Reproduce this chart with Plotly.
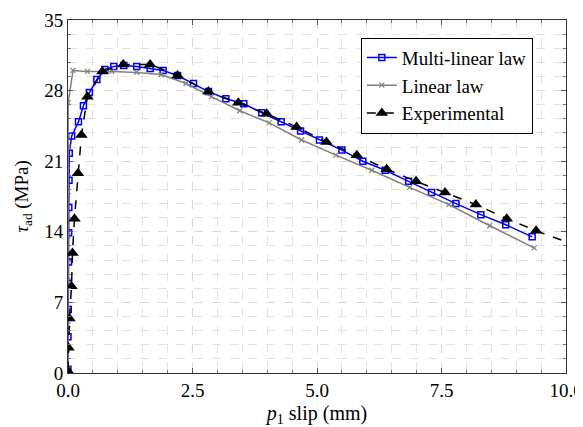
import plotly.graph_objects as go

# Multi-linear law
ml_x = [0.0, 0.0, 0.005, 0.008, 0.01, 0.013, 0.016, 0.02, 0.025, 0.074, 0.21, 0.31, 0.43, 0.58,
        0.74, 0.92, 1.12, 1.38, 1.65, 1.91, 2.2, 2.52, 2.82, 3.17, 3.53, 3.89, 4.28, 4.67, 5.05,
        5.5, 5.92, 6.37, 6.84, 7.3, 7.79, 8.29, 8.79, 9.32]
ml_y = [0.37, 3.6, 6.3, 8.9, 11.0, 13.9, 16.4, 19.1, 21.8, 23.5, 24.9, 26.5, 27.8, 29.1,
        30.1, 30.4, 30.5, 30.4, 30.2, 30.0, 29.5, 28.7, 27.9, 27.2, 26.7, 25.8, 24.9, 24.0, 23.1,
        22.1, 21.0, 20.1, 19.0, 17.9, 16.8, 15.7, 14.7, 13.5]

# Linear law
lin_x = [0.0, 0.0, 0.0, 0.0, 0.0, 0.0, 0.003, 0.1, 0.39, 0.88, 1.38, 1.87, 2.37, 2.88, 3.45,
         4.04, 4.69, 5.38, 6.1, 6.86, 7.65, 8.47, 9.36]
lin_y = [0.4, 4.8, 9.2, 13.6, 18.0, 22.4, 26.8, 30.0, 29.9, 29.9, 29.8, 29.6, 28.7, 27.4, 26.0,
         24.8, 23.1, 21.6, 20.1, 18.4, 16.7, 14.6, 12.4]

# Experimental
exp_x = [0.0, 0.01, 0.03, 0.07, 0.09, 0.13, 0.2, 0.27, 0.39, 0.69, 1.11, 1.65, 2.2, 2.82, 3.42,
         3.99, 4.59, 5.19, 5.8, 6.4, 6.99, 7.57, 8.19, 8.81, 9.4, 10.5]
exp_y = [0.2, 2.5, 5.4, 8.6, 11.9, 15.3, 19.8, 23.6, 27.4, 29.9, 30.6, 30.6, 29.5, 27.9, 26.8,
         25.7, 24.4, 22.9, 21.6, 20.2, 19.0, 17.9, 16.7, 15.3, 14.1, 12.1]

x_ticks = [0.0, 2.5, 5.0, 7.5, 10.0]
y_ticks = [0, 7, 14, 21, 28, 35]

FONT = "Liberation Serif"

fig = go.Figure()
fig.add_trace(go.Scatter(
    x=ml_x, y=ml_y, mode="lines+markers", name="Multi-linear law",
    line=dict(color="#0000ff", width=1.5),
    marker=dict(symbol="square-open", size=6, color="#0000ff", line=dict(width=1.5)),
))
fig.add_trace(go.Scatter(
    x=lin_x, y=lin_y, mode="lines+markers", name="Linear law",
    line=dict(color="#808080", width=1.5),
    marker=dict(symbol="x-thin", size=5, color="#808080", line=dict(width=1.2, color="#808080")),
))
fig.add_trace(go.Scatter(
    x=exp_x, y=exp_y, mode="lines+markers", name="Experimental",
    line=dict(color="black", width=1.5, dash="dash"),
    marker=dict(symbol="triangle-up", size=11, color="black"),
))

axis_common = dict(
    showline=True, linecolor="#333333", linewidth=1, mirror="allticks",
    ticks="inside", ticklen=5, tickcolor="#555555",
    showgrid=True, gridcolor="#d9d9d9", griddash="dash", gridwidth=1,
    zeroline=False, automargin=False,
    tickfont=dict(family=FONT, size=19, color="black"),
)

fig.update_xaxes(
    range=[0, 10], tickvals=x_ticks, ticktext=[f"{v:.1f}" for v in x_ticks],
    minor=dict(dtick=0.5, tick0=0, ticks="inside", ticklen=3, tickcolor="#777777",
               showgrid=True, gridcolor="#e3e3e3", griddash="dash"),
    title=dict(text="<i>p</i><sub>1</sub> slip (mm)", font=dict(family=FONT, size=20, color="black"),
               standoff=10),
    **axis_common,
)
fig.update_yaxes(
    range=[0, 35], tickvals=y_ticks,
    minor=dict(dtick=1.4, tick0=0, ticks="inside", ticklen=3, tickcolor="#777777",
               showgrid=True, gridcolor="#e3e3e3", griddash="dash"),
    title=dict(text="<i>τ</i><sub>ad</sub> (MPa)", font=dict(family=FONT, size=19, color="black"),
               standoff=10),
    **axis_common,
)

# page body adds an 8px offset, so the figure is sized to fit inside the window
fig.update_layout(
    width=575, height=419,
    margin=dict(l=60, r=17, t=12, b=54),
    plot_bgcolor="white", paper_bgcolor="white",
    font=dict(family=FONT, size=19, color="black"),
    legend=dict(
        x=0.588, y=0.95, xanchor="left", yanchor="top",
        bgcolor="white", bordercolor="black", borderwidth=1,
        font=dict(family=FONT, size=19, color="black"),
        tracegroupgap=0, itemwidth=30,
    ),
    showlegend=True,
)

fig.write_html("out.html")
